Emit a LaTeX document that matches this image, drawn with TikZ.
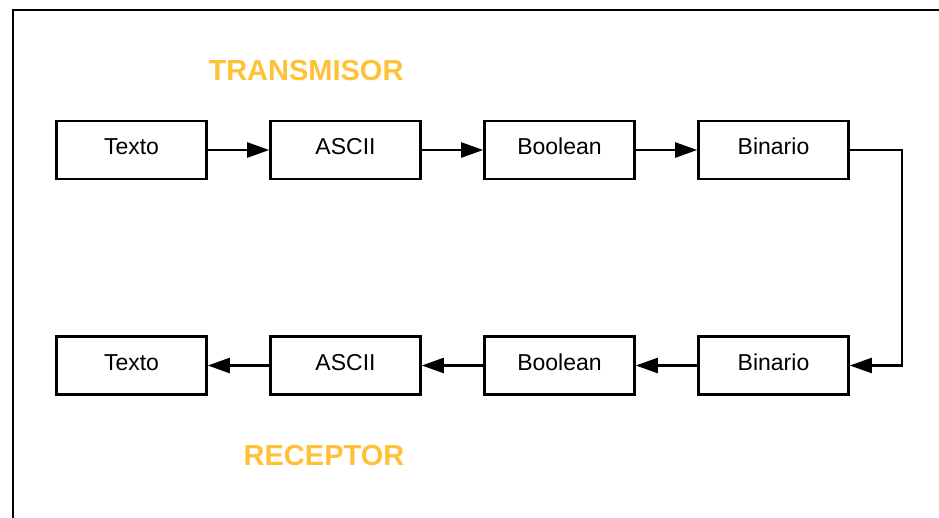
\documentclass[tikz,border=0pt]{standalone}
\usepackage{fontspec}
\setmainfont{Liberation Sans}
\usetikzlibrary{arrows.meta}
\definecolor{gold}{RGB}{255,193,55}
\begin{document}
\begin{tikzpicture}[x=1pt,y=-1pt,
  stage/.style={draw=black,line width=2.6pt,minimum width=150pt,minimum height=58pt,
    inner sep=0pt,text height=16.5pt,text depth=6.6pt,font=\fontsize{23}{25}\selectfont},
  flow/.style={line width=2.4pt,-{Triangle[length=22pt,width=15pt]}},
  title/.style={text=gold,font=\bfseries\fontsize{29}{32}\selectfont}]
\useasboundingbox (0,0) rectangle (939,517);
% frame edges
\draw[line width=2.2pt,line cap=rect] (13,517) -- (13,10) -- (939,10);
% transmitter row
\node[stage] (t1) at (131.5,150) {Texto};
\node[stage] (t2) at (345.5,150) {ASCII};
\node[stage] (t3) at (559.5,150) {Boolean};
\node[stage] (t4) at (773.5,150) {Binario};
% receiver row
\node[stage] (r4) at (773.5,365.5) {Binario};
\node[stage] (r3) at (559.5,365.5) {Boolean};
\node[stage] (r2) at (345.5,365.5) {ASCII};
\node[stage] (r1) at (131.5,365.5) {Texto};
% titles
\node[title] (tx) at (306,70.5) {TRANSMISOR};
\node[title] (rx) at (324,456) {RECEPTOR};
% connectors
\draw[flow] (t1) -- (t2);
\draw[flow] (t2) -- (t3);
\draw[flow] (t3) -- (t4);
\coordinate (bend) at (902,0);
\draw[flow] (t4.east) -- (bend |- t4.east) -- (bend |- r4.east) -- (r4.east);
\draw[flow] (r4) -- (r3);
\draw[flow] (r3) -- (r2);
\draw[flow] (r2) -- (r1);
\end{tikzpicture}
\end{document}
